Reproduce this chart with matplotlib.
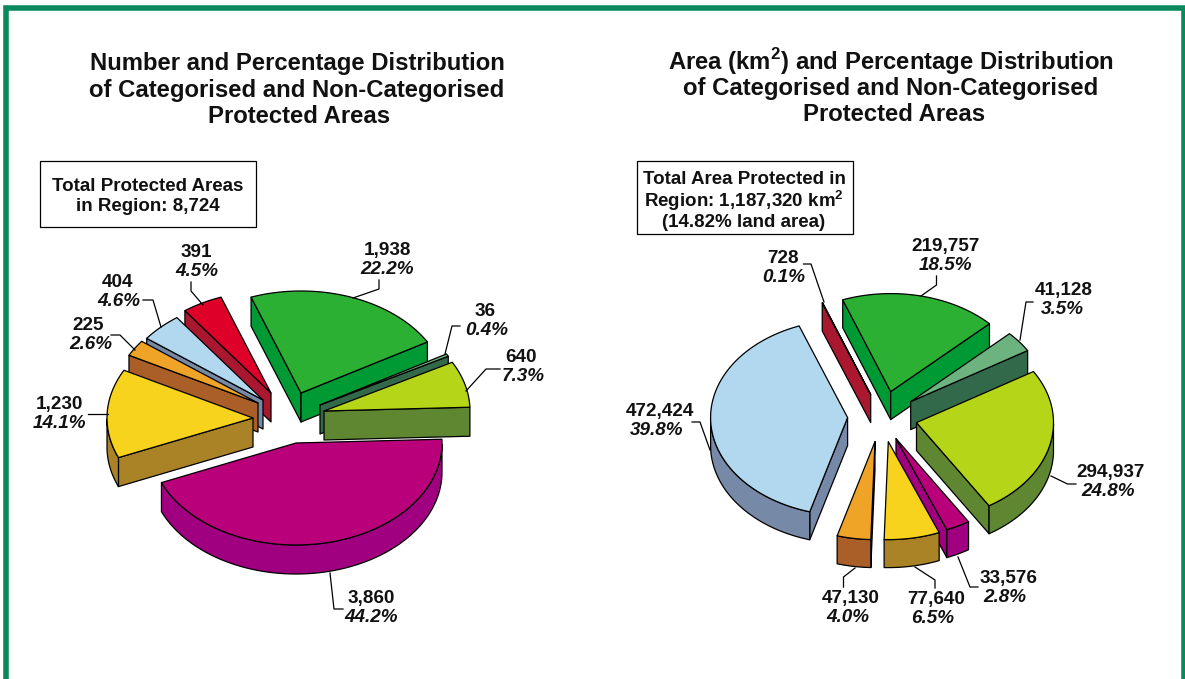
#!/usr/bin/python3

import math
import matplotlib
matplotlib.use("Agg")
import matplotlib.pyplot as plt
from matplotlib.patches import Polygon, Rectangle

plt.rcParams['font.family'] = ['Liberation Sans', 'DejaVu Sans']
plt.rcParams['mathtext.fontset'] = 'custom'
plt.rcParams['mathtext.bf'] = 'Liberation Sans:bold'

counts = [1938, 36, 640, 3860, 1230, 225, 404, 391]
countLabels = ["1,938", "36", "640", "3,860", "1,230", "225", "404", "391"]
countPercents = ["22.2%", "0.4%", "7.3%", "44.2%", "14.1%", "2.6%", "4.6%", "4.5%"]

areas = [219757, 41128, 294937, 33576, 77640, 47130, 472424, 728]
areaLabels = ["219,757", "41,128", "294,937", "33,576", "77,640", "47,130", "472,424", "728"]
areaPercents = ["18.5%", "3.5%", "24.8%", "2.8%", "6.5%", "4.0%", "39.8%", "0.1%"]

# top colour, side colour, for the left pie order
green = ("#2BB034", "#009A35")
dark = ("#6DB37F", "#33694B")
lime = ("#B5D518", "#5F8732")
magenta = ("#B9007A", "#A0007F")
yellow = ("#F7D31D", "#AA8327")
orange = ("#F0A427", "#AA5F28")
blue = ("#B2D8F0", "#7689A6")
red = ("#DE0029", "#A9182E")
colors = [green, dark, lime, magenta, yellow, orange, blue, red]

# how far each slice is pulled out of the pie, in pixels
leftOffsets = [(10, -21), (29, -9), (33, -3), (5, 29), (-38, 4), (-33, -11), (-28, -14), (-20, -21)]
rightOffsets = [(8.7, -27), (28.7, -17), (34.5, 4), (14, 20), (6.3, 23), (-7, 23), (-34.4, -1), (-11.3, -24)]

# label x, percent x, middle y of the two lines, then the leader line points
leftNotes = [
    (387, 387, 259, [(379, 280), (379, 289), (353, 298)]),
    (485, 487, 320, [(460, 326), (452, 326), (445, 354)]),
    (521, 523, 366, [(500, 369), (486, 369), (466, 391)]),
    (371, 371, 607, [(343, 609), (334, 609), (330, 573)]),
    (59, 59, 413, [(88, 414), (108, 414)]),
    (88, 91, 334, [(111, 335), (120, 335), (135, 350)]),
    (118, 119, 291, [(143, 300), (153, 300), (161, 327)]),
    (196, 197, 261, [(191, 282), (191, 291), (203, 305)]),
]
rightNotes = [
    (946, 945, 255, [(936.5, 276), (936.5, 285), (921, 296)]),
    (1064, 1062, 299, [(1033, 302), (1026, 302), (1020, 340)]),
    (1111, 1108, 481, [(1076, 484), (1067.5, 484), (1051, 476)]),
    (1008, 1005, 587, [(978, 587), (970, 587), (958, 557)]),
    (936.5, 933, 608, [(935, 588), (935, 580), (915, 567)]),
    (851, 848, 607, [(843.5, 587), (843.5, 577), (855, 568)]),
    (660, 657, 420, [(692, 422), (700, 422), (710, 450)]),
    (783, 784, 267, [(803.5, 264), (811, 264), (824, 302)]),
]


def arcPoints(cx, cy, a, b, start, end):
    steps = max(2, int(abs(end - start)))
    pts = []
    for i in range(steps + 1):
        t = math.radians(start + (end - start) * i / steps)
        pts.append((cx + a * math.cos(t), cy - b * math.sin(t)))
    return pts


def drawFace(ax, pts, color):
    ax.add_patch(Polygon(pts, closed=True, facecolor=color, edgecolor="black", linewidth=0.9, joinstyle="round"))


def drawPie(ax, values, offsets, notes, labels, percents, cx, cy, a, b, depth, startAngle):
    total = sum(values)
    slices = []
    angle = startAngle
    for i in range(len(values)):
        sweep = values[i] / total * 360
        slices.append((i, angle, angle - sweep))
        angle -= sweep
    # back to front, by where the point of the slice ends up
    slices.sort(key=lambda s: offsets[s[0]][1])
    for i, a1, a2 in slices:
        x = cx + offsets[i][0]
        y = cy + offsets[i][1]
        top, side = colors[i]
        rim = arcPoints(x, y, a, b, a1, a2)
        if math.cos(math.radians(a1)) < 0:
            p = rim[0]
            drawFace(ax, [(x, y), p, (p[0], p[1] + depth), (x, y + depth)], side)
        if math.cos(math.radians(a2)) > 0:
            p = rim[-1]
            drawFace(ax, [(x, y), p, (p[0], p[1] + depth), (x, y + depth)], side)
        # only the part of the rim facing us, sin < 0
        front = [p for p in rim if p[1] >= y - 0.001]
        if len(front) > 1:
            drawFace(ax, front + [(p[0], p[1] + depth) for p in reversed(front)], side)
        drawFace(ax, [(x, y)] + rim, top)
    for i in range(len(values)):
        tx, px, ty, line = notes[i]
        ax.plot([p[0] for p in line], [p[1] for p in line], color="black", linewidth=0.9)
        ax.text(tx, ty - 8.5, labels[i], ha="center", va="center", fontsize=13.6, fontweight="bold", color="#111111")
        ax.text(px, ty + 10.5, percents[i], ha="center", va="center", fontsize=13.6, fontweight="bold", style="italic", color="#111111")


def boldText(ax, x, y, text, size):
    ax.text(x, y + 1.5, text, ha="center", va="center", fontsize=size, fontweight="bold", color="#111111")


fig = plt.figure(figsize=(11.85, 6.79), dpi=100)
ax = fig.add_axes([0, 0, 1, 1])
ax.set_xlim(0, 1185)
ax.set_ylim(679, 0)
ax.axis("off")

ax.add_patch(Rectangle((5.5, 8), 1178.5, 700, facecolor="white", edgecolor="#0A8A5C", linewidth=4))

titleSize = 17.2
boldText(ax, 297, 62, "Number and Percentage Distribution", titleSize)
boldText(ax, 297, 89, "of Categorised and Non-Categorised", titleSize)
boldText(ax, 299, 115, "Protected Areas", titleSize)
boldText(ax, 890.5, 60, r"Area (km$^{\mathbf{2}}$) and Percentage Distribution", titleSize)
boldText(ax, 891, 87, "of Categorised and Non-Categorised", titleSize)
boldText(ax, 894, 113, "Protected Areas", titleSize)

ax.add_patch(Rectangle((40, 160.5), 216, 66.5, facecolor="white", edgecolor="black", linewidth=0.9))
boldText(ax, 148, 185, "Total Protected Areas", 13.5)
boldText(ax, 148, 205, "in Region: 8,724", 13.5)

ax.add_patch(Rectangle((636.5, 160.5), 216, 73.5, facecolor="white", edgecolor="black", linewidth=0.9))
boldText(ax, 744.5, 178, "Total Area Protected in", 13.5)
boldText(ax, 744, 199, r"Region: 1,187,320 km$^{\mathbf{2}}$", 13.5)
boldText(ax, 744, 221, "(14.82% land area)", 13.5)

drawPie(ax, counts, leftOffsets, leftNotes, countLabels, countPercents, 291, 414, 146, 102, 29, 110)
drawPie(ax, areas, rightOffsets, rightNotes, areaLabels, areaPercents, 882, 418.6, 137, 98, 28, 110.5)

fig.savefig("out.png", dpi=100)
